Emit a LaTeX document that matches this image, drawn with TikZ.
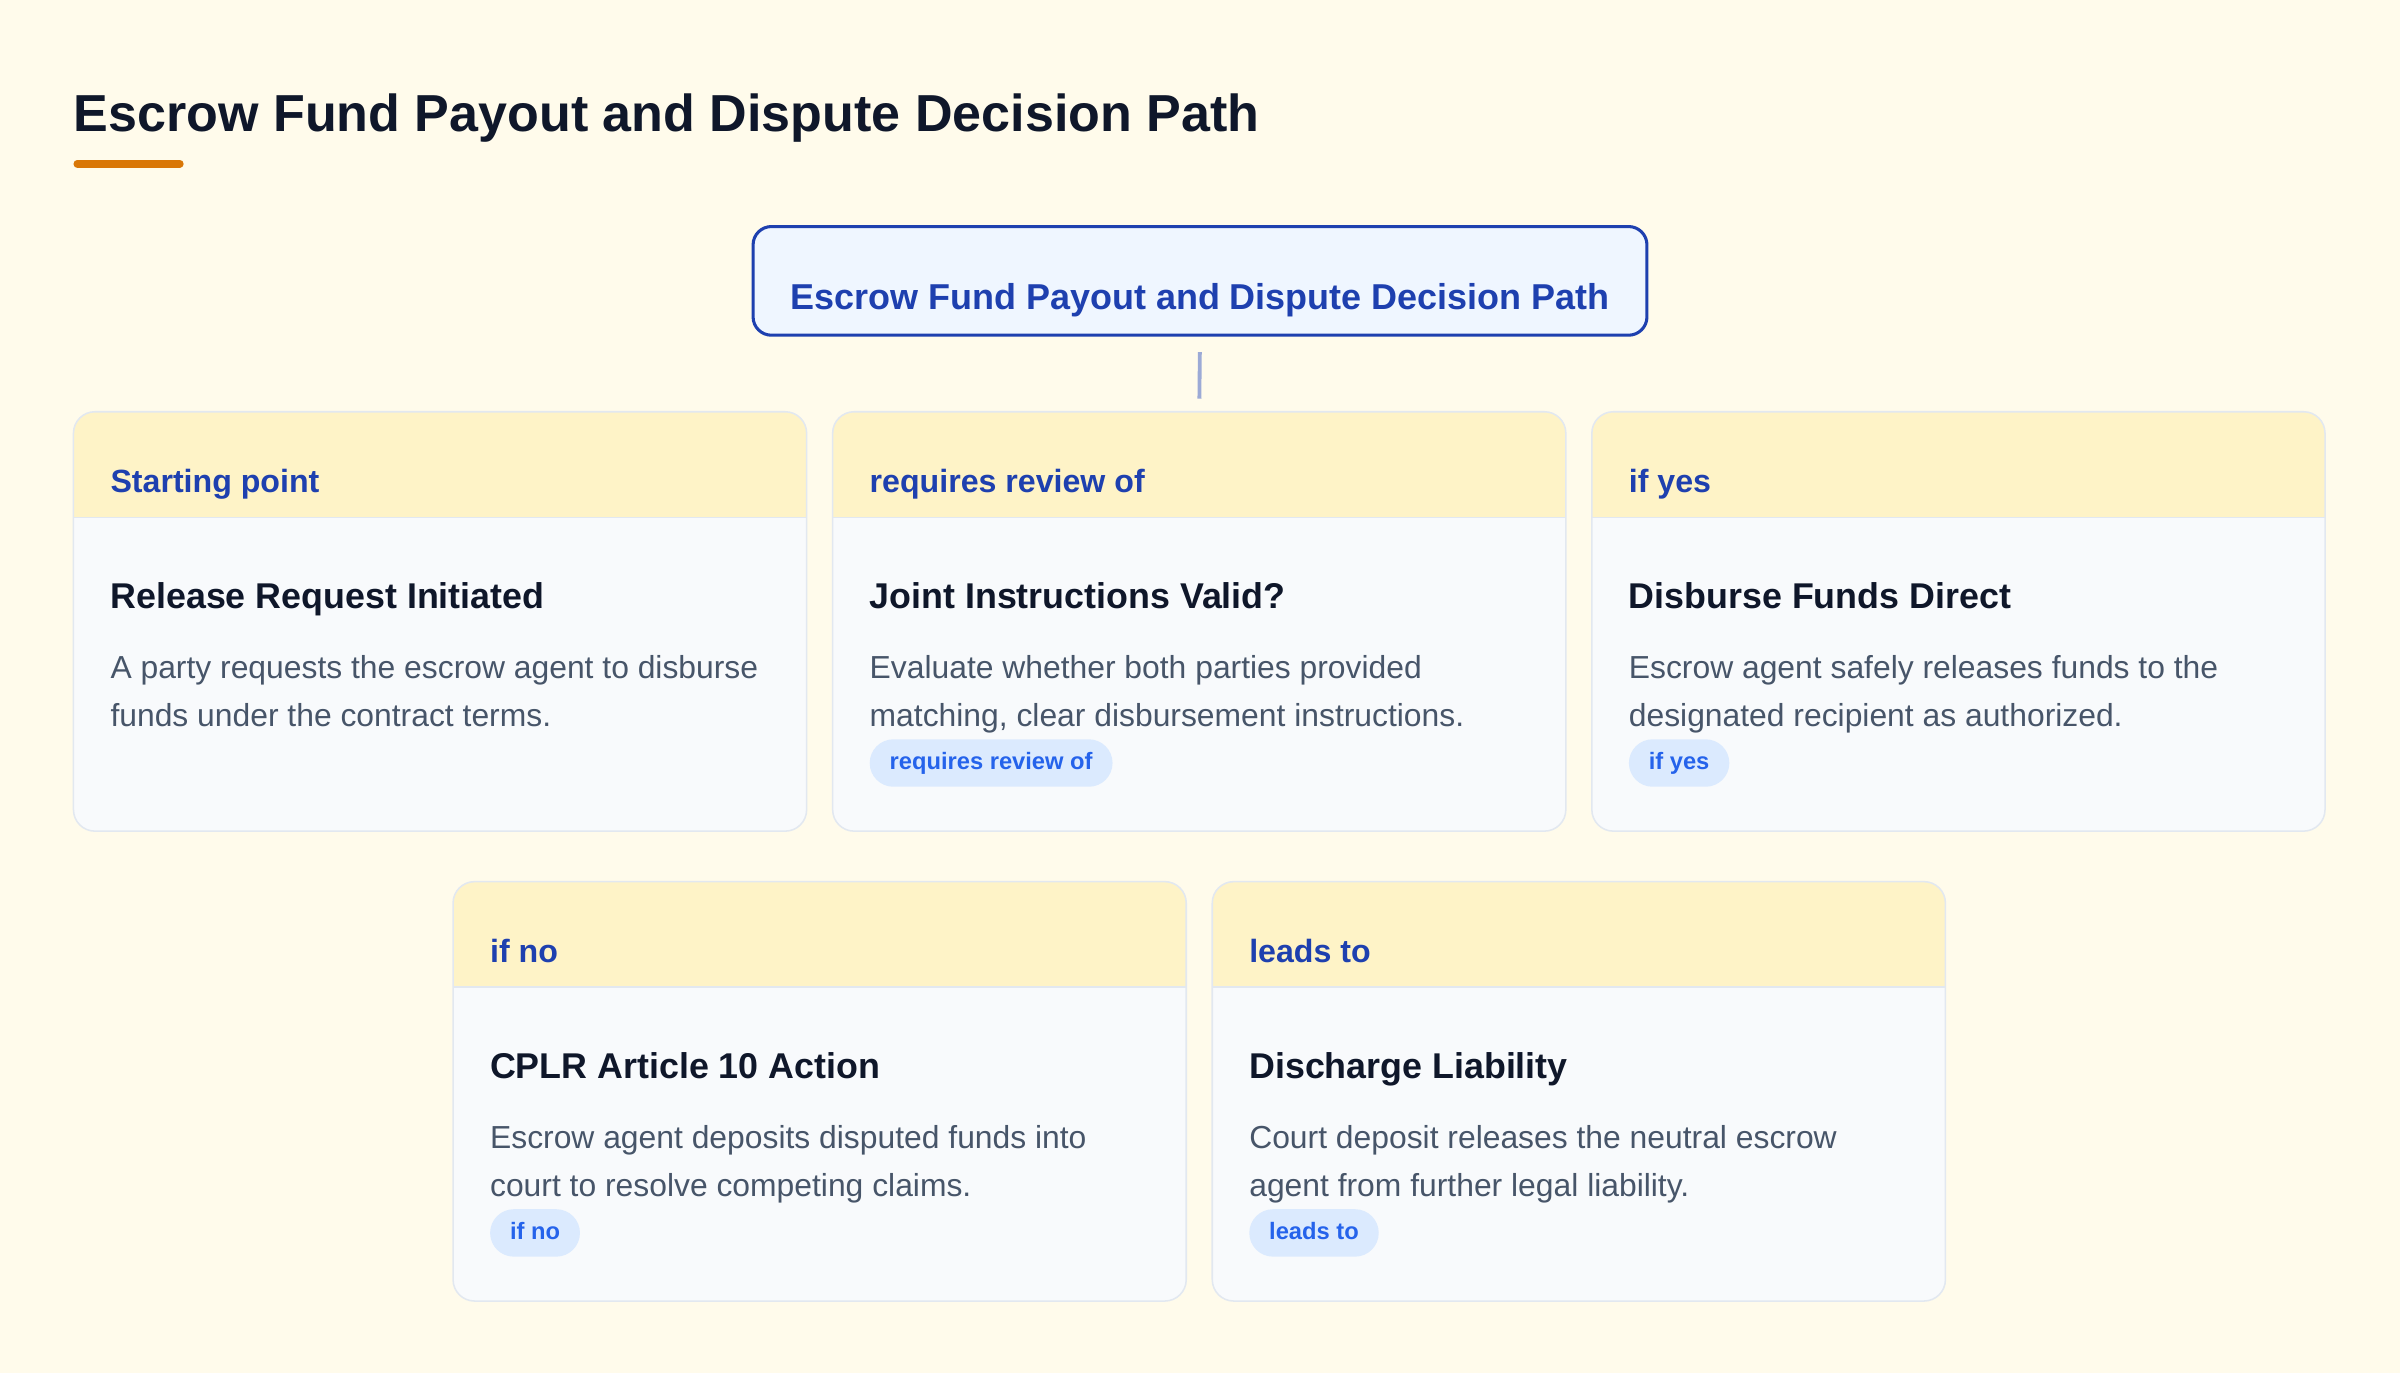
\documentclass[tikz,border=0pt]{standalone}
\usepackage{fontspec}
\setmainfont{Liberation Sans}
\usetikzlibrary{positioning,calc}

\definecolor{pagebg}{HTML}{FFFBEB}
\definecolor{titleink}{HTML}{0F172A}
\definecolor{accent}{HTML}{D97706}
\definecolor{rootfill}{HTML}{EFF6FF}
\definecolor{rootline}{HTML}{1E40AF}
\definecolor{linkline}{RGB}{156,170,214}
\definecolor{hdrfill}{HTML}{FEF3C7}
\definecolor{cardbody}{HTML}{F8FAFC}
\definecolor{cardline}{HTML}{E2E8F0}
\definecolor{descink}{HTML}{475569}
\definecolor{badgefill}{HTML}{DBEAFE}
\definecolor{badgeink}{HTML}{2563EB}

\begin{document}
\begin{tikzpicture}[x=1pt,y=-1pt,
    card/.style={fill=cardbody, rounded corners=14pt, minimum width=479pt,
        minimum height=274pt, inner sep=0pt, outer sep=0pt},
    cardedge/.style={draw=cardline, line width=1pt, rounded corners=14pt},
    hdtext/.style={anchor=base west, inner sep=0pt, text=rootline,
        font=\fontsize{21}{25}\selectfont\bfseries},
    ttltext/.style={anchor=base west, inner sep=0pt, text=titleink,
        font=\fontsize{23.4}{28}\selectfont\bfseries},
    desctext/.style={anchor=base west, inner sep=0pt, text=descink,
        font=\fontsize{20.8}{31.5}\selectfont},
    badge/.style={anchor=west, fill=badgefill, rounded corners=15.5pt,
        minimum height=31pt, inner xsep=13pt, inner ysep=0pt,
        text height=11.5pt, text depth=3.3pt, text=badgeink,
        font=\fontsize{15.5}{18}\selectfont\bfseries},
    link/.style={draw=linkline, line width=2.5pt}]

\fill[pagebg] (0,0) rectangle (1568,897);
\useasboundingbox (0,0) rectangle (1568,897);

% heading
\node[anchor=base west, inner sep=0pt, text=titleink,
    font=\fontsize{34}{40}\selectfont\bfseries] (title) at (48,86)
    {Escrow Fund Payout and Dispute Decision Path};
\draw[accent, line width=5pt, line cap=round]
    ($(title.base west)+(2.5,21)$) -- ($(title.base west)+(69.5,21)$);

% root
\node[draw=rootline, line width=2pt, fill=rootfill, rounded corners=12pt,
    minimum width=584pt, inner sep=0pt, text height=54pt, text depth=17pt,
    anchor=base, text=rootline, font=\fontsize{23.5}{28}\selectfont\bfseries]
    (root) at (784,202) {Escrow Fund Payout and Dispute Decision Path};

% cards
\node[card] (c1) at (287.5,406) {};
\node[card, right=17pt of c1] (c2) {};
\node[card, right=17pt of c2] (c3) {};
\node[card, below left=33pt and 8.5pt of c2.south] (c4) {};
\node[card, right=17pt of c4] (c5) {};

\draw[link, shorten <=10pt, shorten >=8.5pt] (root.south) -- (c2.north);

\foreach \c/\hd/\ttl/\la/\lb in {
    c1/Starting point/Release Request Initiated/A party requests the escrow agent to disburse/funds under the contract terms.,
    c2/requires review of/Joint Instructions Valid?/Evaluate whether both parties provided/{matching, clear disbursement instructions.},
    c3/if yes/Disburse Funds Direct/Escrow agent safely releases funds to the/designated recipient as authorized.,
    c4/if no/CPLR Article 10 Action/Escrow agent deposits disputed funds into/court to resolve competing claims.,
    c5/leads to/Discharge Liability/Court deposit releases the neutral escrow/agent from further legal liability.}
{
  \begin{scope}
    \clip[rounded corners=14pt] (\c.north west) rectangle (\c.south east);
    \fill[hdrfill] (\c.north west) rectangle ($(\c.north east)+(0,69)$);
  \end{scope}
  \draw[cardline, line width=1pt] ($(\c.north west)+(0,69)$) -- ($(\c.north east)+(0,69)$);
  \draw[cardedge] (\c.north west) rectangle (\c.south east);
  \node[hdtext] (\c-hd) at ($(\c.north west)+(24,53)$) {\hd};
  \node[ttltext] (\c-ttl) at ($(\c.north west)+(24,128.5)$) {\ttl};
  \node[desctext] (\c-la) at ($(\c.north west)+(24,174.5)$) {\la};
  \node[desctext] (\c-lb) at ($(\c.north west)+(24,205.5)$) {\lb};
}

% badges
\foreach \c/\bd in {c2/requires review of, c3/if yes, c4/if no, c5/leads to}
  \node[badge] (\c-bd) at ($(\c.north west)+(24,229.5)$) {\bd};

\end{tikzpicture}
\end{document}
